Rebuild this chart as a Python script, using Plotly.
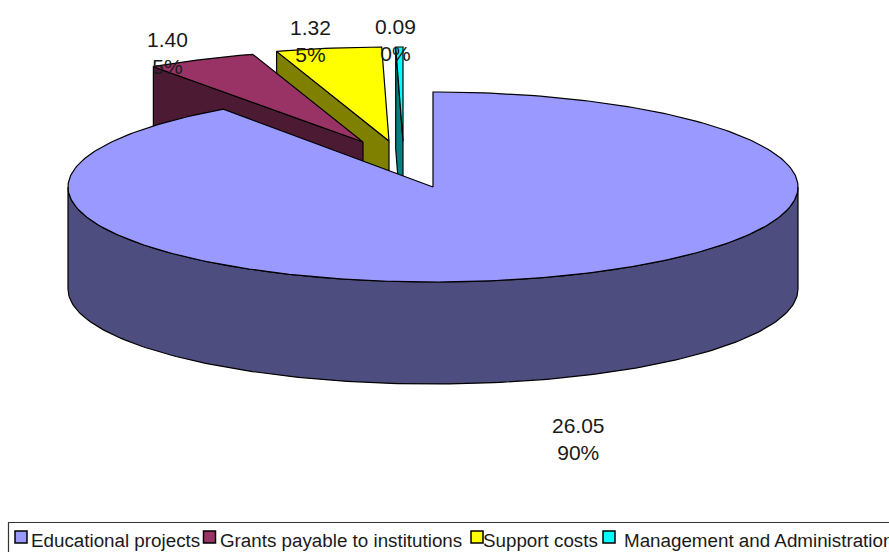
import numpy as np
import plotly.graph_objects as go

W, H = 889, 552

# Chart data
categories = ["Educational projects", "Grants payable to institutions",
              "Support costs", "Management and Administration"]
values = [26.05, 1.40, 1.32, 0.09]

# Colours: top face, side face
top_colors = ["#9999FF", "#993366", "#FFFF00", "#00FFFF"]
side_colors = ["#4D4D80", "#4D1A33", "#808000", "#008080"]

# Pie geometry in page pixels
CX, CY = 433, 187
DEPTH = 102
# Radii of each wedge, slightly different because of the view perspective
radii = [(365, 95), (365, 92), (372, 94), (372, 94)]
# Displacement of each wedge's tip from the pie centre
explode = [(0, 0), (-70, -45), (-44, -46), (-30, -46)]
# Anchor of each value label
label_xy = [(578, 439), (167.5, 53), (310.5, 41), (395, 40)]
# Legend layout: swatch left edge, text left edge
legend_swatch_x = [15, 203.5, 471, 603]
legend_text_x = [29, 218, 481, 621.5]
LEGEND_Y = 540.5

total = sum(values)
fractions = [v / total for v in values]
starts = np.concatenate([[0], np.cumsum(fractions)[:-1]]) * 2 * np.pi
ends = np.cumsum(fractions) * 2 * np.pi


def arc(a0, a1, ox, oy, rx, ry):
    n = max(2, int((a1 - a0) / (2 * np.pi) * 360))
    t = np.linspace(a0, a1, n)
    return CX + ox + rx * np.sin(t), CY + oy - ry * np.cos(t)


def poly(x, y, fill):
    return go.Scatter(x=list(x), y=list(y), mode="lines", fill="toself",
                      fillcolor=fill, line=dict(color="black", width=1.2),
                      hoverinfo="skip", showlegend=False)


fig = go.Figure()

# Wedges are painted back to front: the small ones first, the large one last
for i in [3, 2, 1]:
    ox, oy = explode[i]
    tx, ty = CX + ox, CY + oy
    ax, ay = arc(starts[i], ends[i], ox, oy, *radii[i])
    # Cut face running from the tip to the leading outer corner
    fig.add_trace(poly([tx, ax[0], ax[0], tx, tx],
                       [ty, ay[0], ay[0] + DEPTH, ty + DEPTH, ty], side_colors[i]))
    fig.add_trace(poly([tx, *ax, tx], [ty, *ay, ty], top_colors[i]))

# Outer wall of the large wedge, visible along the front half of the ellipse
wx, wy = arc(np.pi / 2, 3 * np.pi / 2, 0, 0, *radii[0])
fig.add_trace(poly([*wx, *wx[::-1], wx[0]],
                   [*wy, *(wy[::-1] + DEPTH), wy[0]], side_colors[0]))
mx, my = arc(starts[0], ends[0], 0, 0, *radii[0])
fig.add_trace(poly([CX, *mx, CX], [CY, *my, CY], top_colors[0]))

# Legend frame and swatches
fig.add_shape(type="rect", x0=8.5, x1=W + 20, y0=522.5, y1=H + 20,
              line=dict(color="#333333", width=1.2), fillcolor="rgba(0,0,0,0)")
for x0, col in zip(legend_swatch_x, top_colors):
    fig.add_shape(type="rect", x0=x0, x1=x0 + 12, y0=531, y1=543,
                  fillcolor=col, line=dict(color="black", width=1.5), layer="above")

annotations = []
for v, f, (lx, ly) in zip(values, fractions, label_xy):
    annotations.append(dict(x=lx, y=ly, text=f"{v:.2f}<br>{f * 100:.0f}%",
                            showarrow=False, xanchor="center", yanchor="middle",
                            font=dict(size=21, color="#1a1a1a")))
for name, x0 in zip(categories, legend_text_x):
    annotations.append(dict(x=x0, y=LEGEND_Y, text=name, showarrow=False,
                            xanchor="left", yanchor="middle",
                            font=dict(size=18.8, color="#1a1a1a")))

fig.update_layout(
    width=W, height=H, margin=dict(l=0, r=0, t=0, b=0),
    paper_bgcolor="white", plot_bgcolor="white", showlegend=False,
    font=dict(family="Liberation Sans, Arial, sans-serif"),
    xaxis=dict(range=[0, W], visible=False, fixedrange=True),
    yaxis=dict(range=[H, 0], visible=False, fixedrange=True),
    annotations=annotations,
)

fig.write_html("out.html", config={"displayModeBar": False})
